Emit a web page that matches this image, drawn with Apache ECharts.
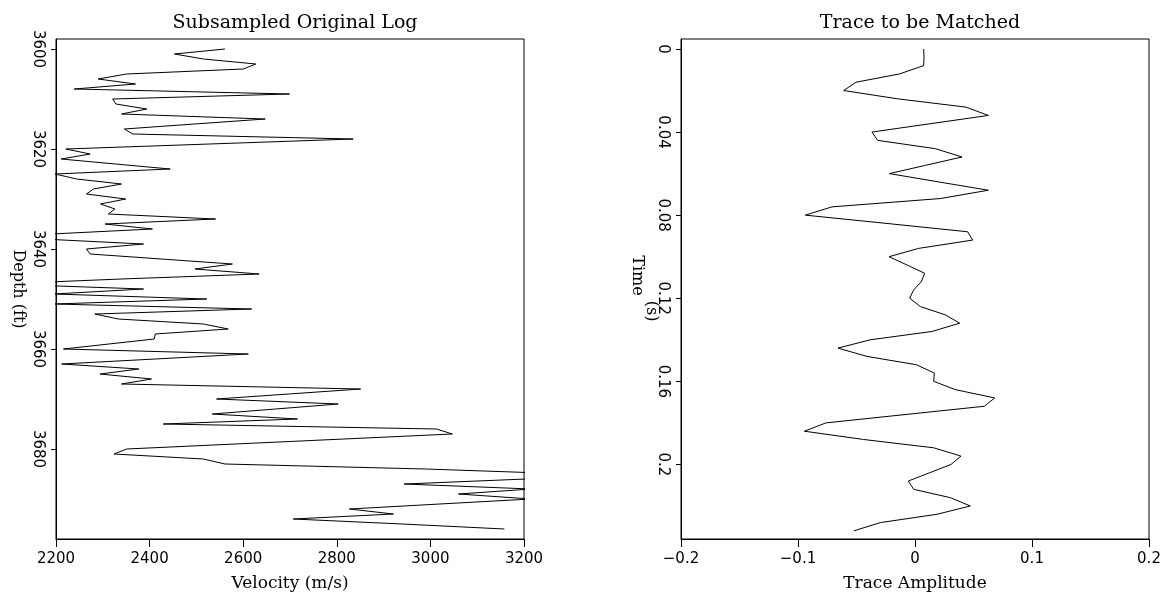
<!DOCTYPE html>
<html><head><meta charset="utf-8">
<script src="https://cdn.jsdelivr.net/npm/echarts@6/dist/echarts.min.js"></script>
<style>html,body{margin:0;padding:0;background:#fff}#c{width:1169px;height:592px}</style>
</head><body><div id="c"></div><script>
// ---- data ----
const depthStart = 3600;   // ft
const depthStep = 1;       // ft per sample
const velocity = [
  2561,2453,2515,2627,2600,2351,2290,2370,2239,2699,
  2321,2328,2394,2340,2647,2496,2346,2364,2835,2528,
  2221,2273,2211,2327,2444,2198,2244,2340,2280,2265,
  2349,2295,2326,2312,2541,2305,2406,2190,2170,2387,
  2265,2273,2425,2577,2497,2634,2339,2080,2387,2195,
  2522,2195,2618,2283,2333,2515,2568,2412,2410,2313,
  2216,2611,2412,2212,2377,2294,2404,2340,2851,2697,
  2543,2803,2669,2534,2716,2429,3013,3047,2815,2583,
  2351,2324,2515,2561,2990,3300,3205,2944,3215,3060,
  3215,3020,2827,2921,2707,2940,3158
];
const timeStep = 0.004;    // s
const amplitude = [
  0.0074,0.0077,0.0074,-0.0131,-0.0504,-0.0610,-0.0148,0.0436,0.0627,0.0128,
  -0.0368,-0.0319,0.0174,0.0402,0.0091,-0.0219,0.0202,0.0627,0.0217,-0.0709,
  -0.0937,-0.0239,0.0450,0.0493,0.0031,-0.0222,-0.0068,0.0083,0.0054,-0.0011,
  -0.0046,0.0046,0.0259,0.0382,0.0145,-0.0382,-0.0658,-0.0410,0.0011,0.0165,
  0.0160,0.0345,0.0681,0.0593,-0.0085,-0.0761,-0.0946,-0.0439,0.0160,0.0393,
  0.0308,0.0125,-0.0057,-0.0011,0.0302,0.0473,0.0188,-0.0296,-0.0524
];
const depthTicks = [3600,3620,3640,3660,3680];
const timeTicks = [0,0.04,0.08,0.12,0.16,0.2];

// ---- chart ----
const logData = velocity.map((v,i)=>[v, depthStart + i*depthStep]);
const traceData = amplitude.map((a,i)=>[a, +(i*timeStep).toFixed(3)]);

const numFont = 'DejaVu Sans';
const txtFont = 'DejaVu Serif';
const black = '#000';

function xAx(idx, min, max, interval, name){
  return {
    type:'value', gridIndex:idx, min, max, interval, position:'bottom',
    name, nameLocation:'middle', nameGap:36, nameMoveOverlap:false,
    nameTextStyle:{fontFamily:txtFont, fontSize:17, color:black},
    axisLine:{show:true, onZero:false, lineStyle:{color:black, width:1}},
    axisTick:{show:true, length:8, lineStyle:{color:black}},
    axisLabel:{margin:13, fontFamily:numFont, fontSize:15, color:black,
      formatter:v=>String(v).replace('-', '\u2212')},
    splitLine:{show:false}
  };
}
function yAx(idx, min, max, ticks, name, nameGap, rich){
  const ax = {
    type:'value', gridIndex:idx, min, max, inverse:true,
    name, nameLocation:'middle', nameGap, nameRotate:-90, nameMoveOverlap:false,
    nameTextStyle:{fontFamily:txtFont, fontSize:16, color:black},
    axisLine:{show:true, onZero:false, lineStyle:{color:black, width:1}},
    axisTick:{show:true, length:5, customValues:ticks, lineStyle:{color:black}},
    axisLabel:{margin:11, rotate:-90, fontFamily:numFont, fontSize:15, color:black,
      customValues:ticks, formatter:v=>String(v)},
    splitLine:{show:false}
  };
  if (rich) ax.nameTextStyle.rich = rich;
  return ax;
}

const chart = echarts.init(document.getElementById('c'), null, {renderer:'canvas'});
chart.setOption({
  backgroundColor:'#fff',
  animation:false,
  title:[
    {text:'Subsampled Original Log', left:290, top:9, textAlign:'center',
     textStyle:{fontFamily:txtFont, fontSize:19, fontWeight:'normal', color:black}},
    {text:'Trace to be Matched', left:915, top:9, textAlign:'center',
     textStyle:{fontFamily:txtFont, fontSize:19, fontWeight:'normal', color:black}}
  ],
  grid:[
    {left:56, top:39, width:468, height:500, show:true, borderColor:black, borderWidth:1,
     containLabel:false, outerBoundsMode:'none'},
    {left:681, top:39, width:468, height:500, show:true, borderColor:black, borderWidth:1,
     containLabel:false, outerBoundsMode:'none'}
  ],
  xAxis:[
    xAx(0, 2200, 3200, 200, 'Velocity (m/s)'),
    xAx(1, -0.2, 0.2, 0.1, 'Trace Amplitude')
  ],
  yAxis:[
    yAx(0, 3598, 3698, depthTicks, 'Depth (ft)', 30),
    yAx(1, -0.0048, 0.2359, timeTicks, '{a|Time} {b|(s)}{sp| }', 22, {
      a:{fontFamily:txtFont, fontSize:16, lineHeight:16, verticalAlign:'bottom', color:black},
      b:{fontFamily:txtFont, fontSize:16, lineHeight:16, verticalAlign:'top', color:black},
      sp:{fontSize:4, lineHeight:30}
    })
  ],
  series:[
    {type:'line', xAxisIndex:0, yAxisIndex:0, data:logData, showSymbol:false, clip:true,
     lineStyle:{color:black, width:1}},
    {type:'line', xAxisIndex:1, yAxisIndex:1, data:traceData, showSymbol:false, clip:true,
     lineStyle:{color:black, width:1}}
  ]
});
</script></body></html>
